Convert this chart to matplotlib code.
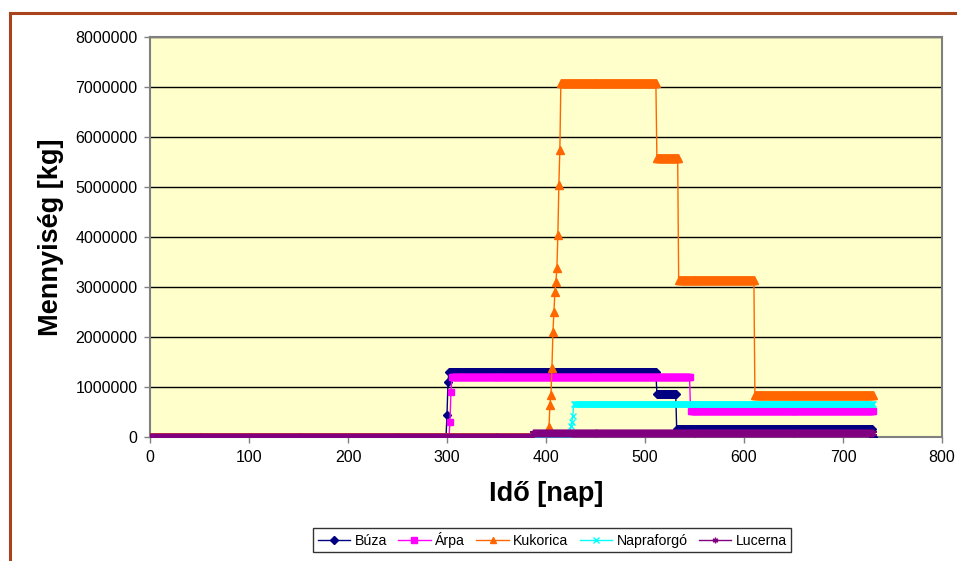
import numpy as np
import matplotlib
matplotlib.use('Agg')
import matplotlib.pyplot as plt
from matplotlib.lines import Line2D

plt.rcParams['font.family'] = ['Liberation Sans', 'DejaVu Sans']

# daily stock levels, stored as (value, number of days) runs, days 0..730
buza_vals = [0, 450000, 1100000, 1300000, 870000, 170000, 0]
buza_days = [300, 1, 1, 210, 20, 198, 1]

arpa_vals = [0, 300000, 900000, 1200000, 520000]
arpa_days = [303, 1, 1, 241, 185]

kukorica_vals = [0, 200000, 650000, 850000, 1380000, 2100000, 2500000, 2900000,
                 3100000, 3380000, 4050000, 5050000, 5750000, 7080000, 5580000,
                 3150000, 850000]
kukorica_days = [403, 1, 1, 1, 1, 1, 1, 1, 1, 1, 1, 1, 1, 97, 22, 77, 120]

napraforgo_vals = [0, 220000, 300000, 420000, 660000]
napraforgo_days = [425, 1, 1, 1, 303]

lucerna_vals = [0, 80000]
lucerna_days = [387, 344]

names = ['Búza', 'Árpa', 'Kukorica', 'Napraforgó', 'Lucerna']
colors = ['#000080', '#FF00FF', '#FF6600', '#00FFFF', '#800080']
markers = ['D', 's', '^', 'x', (6, 2, 0)]
msizes = [4.2, 4.6, 5.4, 5.0, 5.4]

series = [(buza_vals, buza_days), (arpa_vals, arpa_days),
          (kukorica_vals, kukorica_days), (napraforgo_vals, napraforgo_days),
          (lucerna_vals, lucerna_days)]

fig = plt.figure(figsize=(9.57, 5.61), dpi=100)
ax = fig.add_axes([150 / 957, 124 / 561, 792 / 957, 400 / 561])
ax.set_facecolor('#FFFFCC')

for (vals, days), name, c, m, ms in zip(series, names, colors, markers, msizes):
    y = np.repeat(vals, days)
    x = np.arange(len(y))
    ax.plot(x, y, color=c, lw=1.0, marker=m, markersize=ms, markeredgewidth=1.0,
            markerfacecolor=c, markeredgecolor=c, label=name, zorder=3)

ax.set_xlim(0, 800)
ax.set_ylim(0, 8000000)
ax.set_xticks(range(0, 801, 100))
ax.set_yticks(range(0, 8000001, 1000000))
ax.set_yticklabels([str(v) for v in range(0, 8000001, 1000000)])
ax.yaxis.grid(True, color='black', lw=1.0)
ax.set_axisbelow(True)
for s in ax.spines.values():
    s.set_color('#808080')
    s.set_linewidth(1.5)
ax.tick_params(axis='both', direction='out', length=4, width=1, color='#808080',
               labelsize=11.5, pad=5)

ax.set_xlabel('Idő [nap]', fontsize=19.5, fontweight='bold', labelpad=12)
ax.set_ylabel('Mennyiség [kg]', fontsize=19.5, fontweight='bold', labelpad=8)

handles = [Line2D([0], [0], color=c, lw=1.0, marker=m, markersize=4,
                  markerfacecolor=c, markeredgecolor=c)
           for c, m in zip(colors, markers)]
leg = fig.legend(handles, names, loc='lower center', bbox_to_anchor=(0.577, 0.003),
                 ncol=5, fontsize=10.2, frameon=True, fancybox=False,
                 handlelength=2.3, handletextpad=0.3, columnspacing=0.8,
                 borderpad=0.3)
leg.get_frame().set_edgecolor('black')
leg.get_frame().set_linewidth(1.0)

# outer chart border (top and left edges visible)
fig.add_artist(Line2D([10 / 957, 10 / 957], [0, 1 - 13 / 561],
                      transform=fig.transFigure, color='#A8431B', lw=2.2))
fig.add_artist(Line2D([10 / 957, 1], [1 - 13 / 561, 1 - 13 / 561],
                      transform=fig.transFigure, color='#A8431B', lw=2.2))

fig.savefig('out.png', dpi=100)
